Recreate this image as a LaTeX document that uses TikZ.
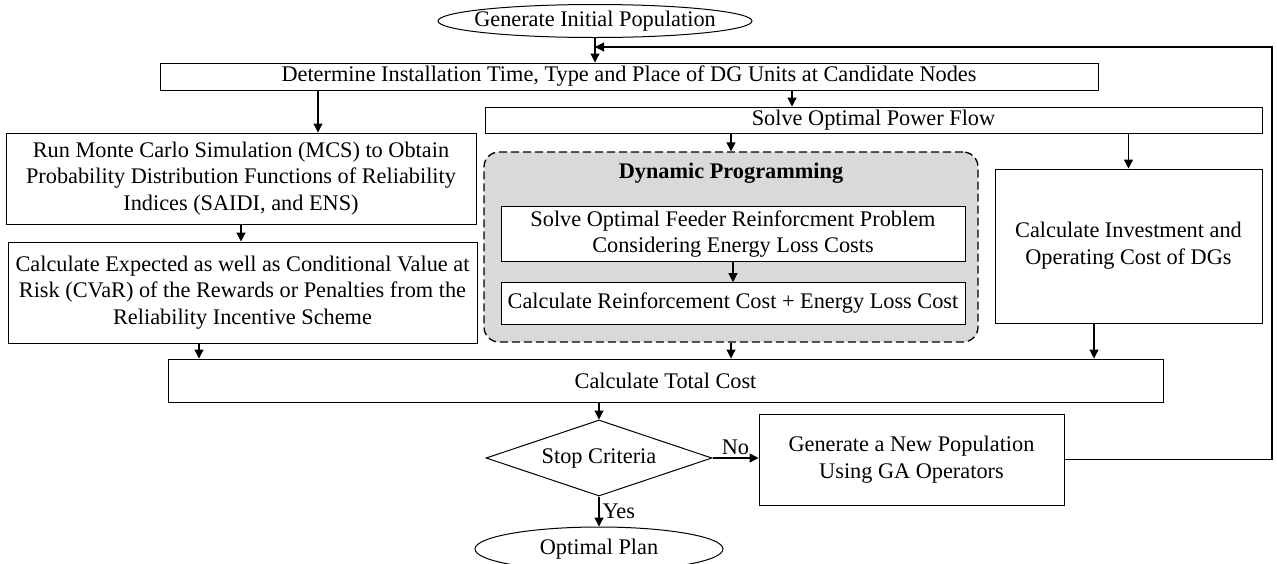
\documentclass[tikz,border=0pt]{standalone}
\usepackage{fontspec}
\setmainfont{Liberation Serif}
\usetikzlibrary{arrows.meta,calc,shapes.geometric}
\definecolor{dpgray}{RGB}{217,217,217}
\newcommand{\flowfont}{\fontsize{22.3pt}{26.7pt}\selectfont}

\begin{document}
\begin{tikzpicture}[
      x=1pt, y=-1pt,
      box/.style={draw, line width=1pt, fill=white, inner sep=0pt, align=center, font=\flowfont},
      term/.style={draw, ellipse, line width=1pt, inner sep=0pt},
      decision/.style={draw, diamond, aspect=2.97, line width=1pt, inner sep=0pt, minimum width=226pt, minimum height=76pt, font=\flowfont},
      dpframe/.style={draw, dash pattern=on 8pt off 4pt, line width=1.3pt, rounded corners=15pt, fill=dpgray, inner sep=0pt},
      arr/.style={line width=1.2pt, -{Triangle[length=9pt,width=9pt]}},
      lbl/.style={font=\flowfont, inner sep=3pt}
    ]
      \useasboundingbox (0,0) rectangle (1277,563);

      \node[term, minimum width=314pt, minimum height=33pt,
        label={[font=\flowfont]center:Generate Initial Population}] (init) at (595,21) {};

      \node[box, minimum width=938pt, minimum height=27pt] (dg) at (629,76.5)
        {Determine Installation Time, Type and Place of DG Units at Candidate Nodes};

      \node[box, minimum width=777pt, minimum height=26pt] (opf) at (873.5,120) {Solve Optimal Power Flow};

      \node[box, minimum width=470pt, minimum height=91pt] (mcs) at (241,178.5) {
        Run Monte Carlo Simulation (MCS) to Obtain\\
        Probability Distribution Functions of Reliability\\
        Indices (SAIDI, and ENS)
      };

      \node[box, minimum width=469pt, minimum height=101pt] (cvar) at (242.5,292.5) {
        Calculate Expected as well as Conditional Value at\\
        Risk (CVaR) of the Rewards or Penalties from the\\
        Reliability Incentive Scheme
      };

      % dynamic programming block
      \node[dpframe, minimum width=494pt, minimum height=190pt] (dp) at (731,247) {};
      \node[font=\flowfont\bfseries] (dptitle) at (731,173) {Dynamic Programming};
      \node[box, minimum width=464pt, minimum height=55pt] (fdr) at (733,234) {
        Solve Optimal Feeder Reinforcment Problem\\
        Considering Energy Loss Costs
      };
      \node[box, minimum width=464pt, minimum height=41.6pt] (rc) at (733,303.5)
        {Calculate Reinforcement Cost + Energy Loss Cost};

      \node[box, minimum width=267pt, minimum height=154pt] (inv) at (1128.5,246) {
        Calculate Investment and\\
        Operating Cost of DGs
      };

      \node[box, minimum width=995pt, minimum height=43pt] (total) at (665.5,380.5) {Calculate Total Cost};

      \node[decision] (stop) at (599,458) {Stop Criteria};

      \node[box, minimum width=305pt, minimum height=91pt] (ga) at (911.5,459.5) {
        Generate a New Population\\
        Using GA Operators
      };

      \node[term, minimum width=248pt, minimum height=44pt,
        label={[font=\flowfont]center:Optimal Plan}] (plan) at (599,549) {};

      \coordinate (loop) at (1272,47);

      % connectors
      \draw[arr] (init.south) -- (init.south |- dg.north);
      \draw[arr] ([xshift=-311pt]dg.south) -- ([xshift=77pt]mcs.north);
      \draw[arr] ([xshift=163pt]dg.south) -- ([xshift=-81.5pt]opf.north);
      \draw[arr] (opf.south -| dp.north) -- (dp.north);
      \draw[arr] (opf.south -| inv.north) -- (inv.north);
      \draw[arr] (mcs.south) -- (mcs.south |- cvar.north);
      \draw[arr] (fdr.south) -- (rc.north);
      \draw[arr] ($(cvar.south)+(-43.5,0)$) -- ($(cvar.south |- total.north)+(-43.5,0)$);
      \draw[arr] (dp.south) -- (dp.south |- total.north);
      \draw[arr] ($(inv.south)+(-34.5,0)$) -- ($(inv.south |- total.north)+(-34.5,0)$);
      \draw[arr] (stop.north |- total.south) -- (stop.north);
      \draw[arr] (stop.east) -- node[lbl, above] {No} (stop.east -| ga.west);
      \draw[arr] (stop.south) -- node[lbl, right] {Yes} (plan.north);
      \draw[arr] (ga.east) -| (loop) -- (init.south |- loop);
    \end{tikzpicture}
\end{document}
